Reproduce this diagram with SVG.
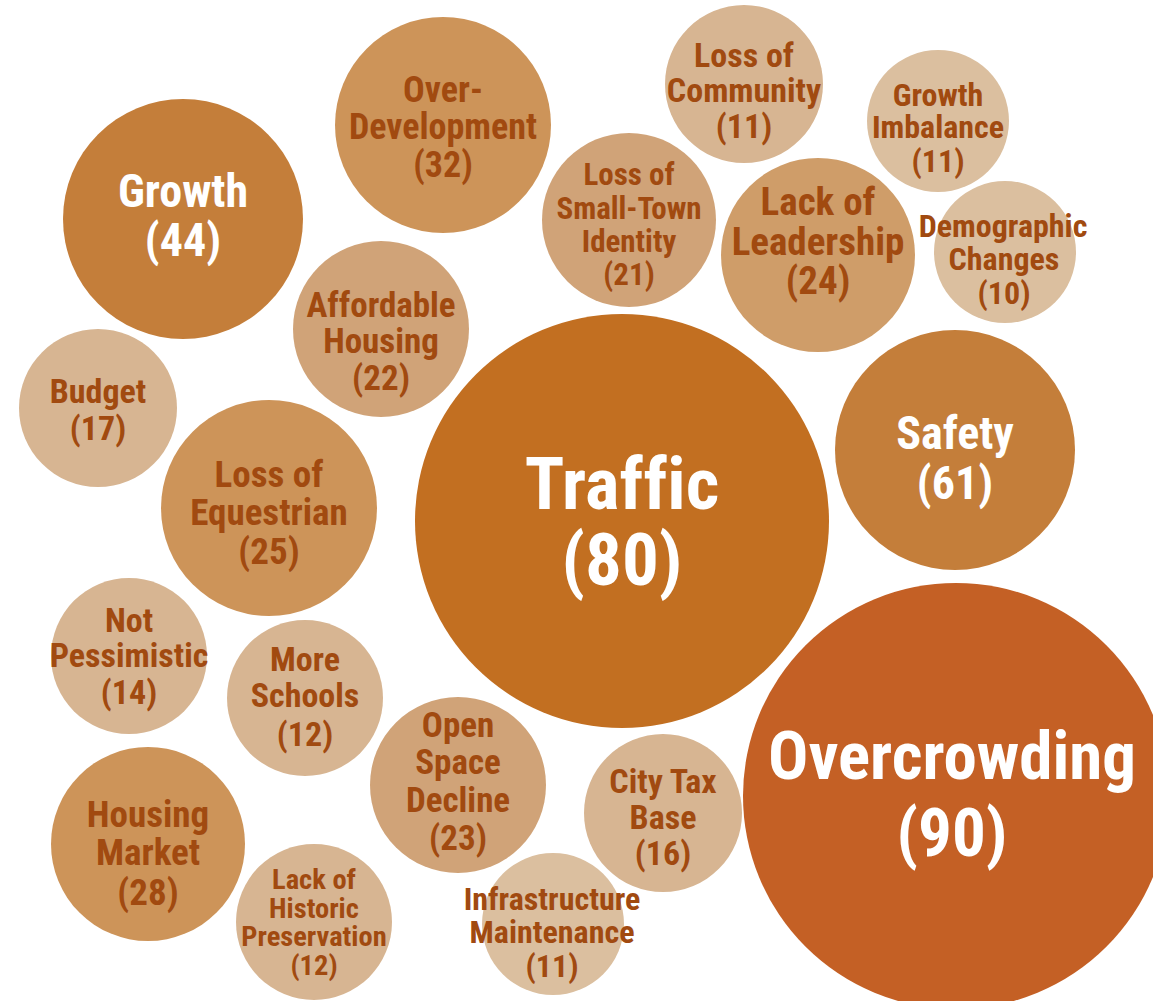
<svg xmlns="http://www.w3.org/2000/svg" width="1153" height="1001" viewBox="0 0 1153 1001">
<style>
text{font-family:"Liberation Sans Narrow","Arial Narrow","Roboto Condensed","DejaVu Sans Condensed",sans-serif;font-weight:bold;text-anchor:middle;fill:#A14A10;font-variant-ligatures:none}
text.w{fill:#FFFFFF}
.c1{fill:#C26F21}
.c0{fill:#C46025}
.c2{fill:#C47E3A}
.c3{fill:#CD9459}
.c4{fill:#CF9D69}
.c5{fill:#D0A378}
.c6{fill:#D7B592}
.c7{fill:#DBBF9F}
</style>
<rect width="1153" height="1001" fill="#FFFFFF"/>
<g id="connectors"/>
<g id="growth"><circle class="c2" cx="183" cy="219" r="120"/><text class="w" font-size="46"><tspan x="183" y="207">Growth</tspan><tspan x="183" y="256">(44)</tspan></text></g>
<g id="over-development"><circle class="c3" cx="443" cy="125" r="108"/><text font-size="36"><tspan x="443" y="102">Over-</tspan><tspan x="443" y="139">Development</tspan><tspan x="443" y="177">(32)</tspan></text></g>
<g id="loss-of-community"><circle class="c6" cx="744" cy="84" r="79"/><text font-size="34"><tspan x="744" y="67">Loss of</tspan><tspan x="744" y="102">Community</tspan><tspan x="744" y="138">(11)</tspan></text></g>
<g id="growth-imbalance"><circle class="c7" cx="938" cy="121" r="71"/><text font-size="32"><tspan x="938" y="106">Growth</tspan><tspan x="938" y="138">Imbalance</tspan><tspan x="938" y="172">(11)</tspan></text></g>
<g id="loss-of-small-town-identity"><circle class="c5" cx="629" cy="220" r="87"/><text font-size="31"><tspan x="629" y="185">Loss of</tspan><tspan x="629" y="219">Small-Town</tspan><tspan x="629" y="252">Identity</tspan><tspan x="629" y="285">(21)</tspan></text></g>
<g id="lack-of-leadership"><circle class="c4" cx="818" cy="255" r="97"/><text font-size="39"><tspan x="818" y="215">Lack of</tspan><tspan x="818" y="255">Leadership</tspan><tspan x="818" y="294">(24)</tspan></text></g>
<g id="demographic-changes"><circle class="c7" cx="1005" cy="252" r="71"/><text font-size="32"><tspan x="1003" y="237">Demographic</tspan><tspan x="1004" y="270">Changes</tspan><tspan x="1004" y="304">(10)</tspan></text></g>
<g id="affordable-housing"><circle class="c5" cx="381" cy="329" r="88"/><text font-size="35"><tspan x="381" y="317">Affordable</tspan><tspan x="381" y="353">Housing</tspan><tspan x="381" y="390">(22)</tspan></text></g>
<g id="budget"><circle class="c6" cx="98" cy="408" r="79"/><text font-size="34"><tspan x="98" y="403">Budget</tspan><tspan x="98" y="440">(17)</tspan></text></g>
<g id="traffic"><circle class="c1" cx="622" cy="521" r="207"/><text class="w" font-size="73"><tspan x="622" y="509">Traffic</tspan><tspan x="622" y="585">(80)</tspan></text></g>
<g id="safety"><circle class="c2" cx="955" cy="450" r="120"/><text class="w" font-size="46"><tspan x="955" y="449">Safety</tspan><tspan x="955" y="499">(61)</tspan></text></g>
<g id="loss-of-equestrian"><circle class="c3" cx="269" cy="508" r="108"/><text font-size="37"><tspan x="269" y="487">Loss of</tspan><tspan x="269" y="525">Equestrian</tspan><tspan x="269" y="564">(25)</tspan></text></g>
<g id="not-pessimistic"><circle class="c6" cx="129" cy="656" r="78"/><text font-size="34"><tspan x="129" y="632">Not</tspan><tspan x="129" y="667">Pessimistic</tspan><tspan x="129" y="704">(14)</tspan></text></g>
<g id="more-schools"><circle class="c6" cx="305" cy="698" r="78"/><text font-size="34"><tspan x="305" y="671">More</tspan><tspan x="305" y="707">Schools</tspan><tspan x="305" y="746">(12)</tspan></text></g>
<g id="overcrowding"><circle class="c0" cx="956" cy="796" r="213"/><text class="w" font-size="67"><tspan x="952" y="779">Overcrowding</tspan><tspan x="952" y="856">(90)</tspan></text></g>
<g id="housing-market"><circle class="c3" cx="148" cy="844" r="97"/><text font-size="37"><tspan x="148" y="827">Housing</tspan><tspan x="148" y="865">Market</tspan><tspan x="148" y="905">(28)</tspan></text></g>
<g id="open-space-decline"><circle class="c5" cx="458" cy="785" r="88"/><text font-size="35"><tspan x="458" y="737">Open</tspan><tspan x="458" y="774">Space</tspan><tspan x="458" y="812">Decline</tspan><tspan x="458" y="850">(23)</tspan></text></g>
<g id="city-tax-base"><circle class="c6" cx="663" cy="813" r="79"/><text font-size="34"><tspan x="663" y="793">City Tax</tspan><tspan x="663" y="829">Base</tspan><tspan x="663" y="865">(16)</tspan></text></g>
<g id="lack-of-historic-preservation"><circle class="c6" cx="314" cy="922" r="78"/><text font-size="28.5"><tspan x="314" y="889">Lack of</tspan><tspan x="314" y="918">Historic</tspan><tspan x="314" y="946">Preservation</tspan><tspan x="314" y="975">(12)</tspan></text></g>
<g id="infrastructure-maintenance"><circle class="c7" cx="553" cy="924" r="71"/><text font-size="32"><tspan x="552" y="910">Infrastructure</tspan><tspan x="552" y="943">Maintenance</tspan><tspan x="552" y="977">(11)</tspan></text></g>
</svg>
